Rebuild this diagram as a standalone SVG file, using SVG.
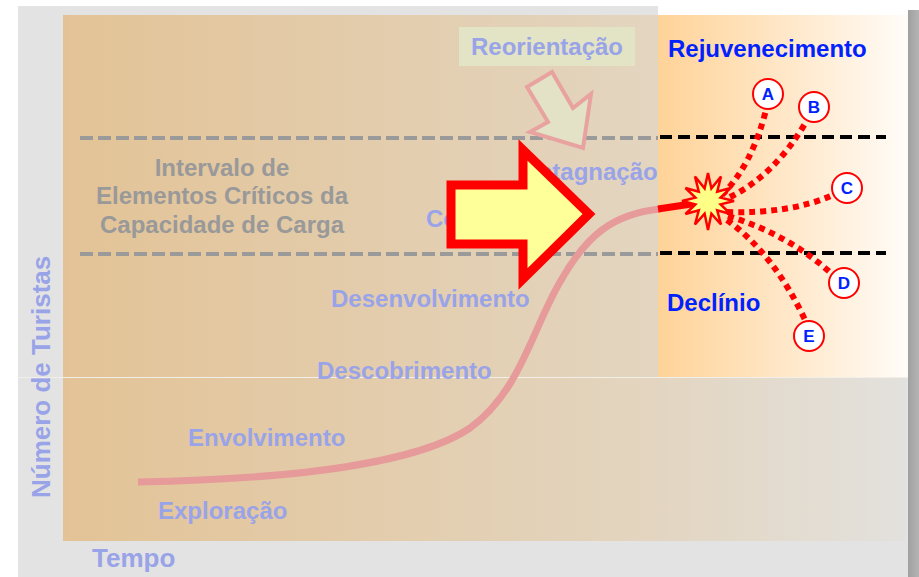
<svg xmlns="http://www.w3.org/2000/svg" width="919" height="577" viewBox="0 0 919 577">
<defs>
<linearGradient id="gOver" x1="63" y1="0" x2="905" y2="0" gradientUnits="userSpaceOnUse">
<stop offset="0" stop-color="#e3c396"/>
<stop offset="0.7" stop-color="#e3d5c0"/>
<stop offset="1" stop-color="#e3e1dd"/>
</linearGradient>
<linearGradient id="gBright" x1="658" y1="0" x2="908" y2="0" gradientUnits="userSpaceOnUse">
<stop offset="0" stop-color="#ffd398"/>
<stop offset="0.55" stop-color="#ffe9cc"/>
<stop offset="1" stop-color="#fffcf8"/>
</linearGradient>
<linearGradient id="gShadow" x1="908" y1="0" x2="919" y2="0" gradientUnits="userSpaceOnUse">
<stop offset="0" stop-color="#a0a0a0"/>
<stop offset="1" stop-color="#b4b4b4"/>
</linearGradient>
<style>
.lav{font-family:"Liberation Sans",Arial,sans-serif;font-weight:bold;font-size:24px;fill:#99a3e8}
.gry{font-family:"Liberation Sans",Arial,sans-serif;font-weight:bold;font-size:24px;fill:#999999}
.blu{font-family:"Liberation Sans",Arial,sans-serif;font-weight:bold;font-size:24px;fill:#0022ff}
.let{font-family:"Liberation Sans",Arial,sans-serif;font-weight:bold;font-size:17px;fill:#0022ff;text-anchor:middle}
.circ{fill:#ffffff;stroke:#ff0000;stroke-width:2}
.dots{fill:none;stroke:#ff0000;stroke-width:6;stroke-dasharray:6 5}
.dgray{stroke:#9a9a9a;stroke-width:4;stroke-dasharray:13 5}
.dblack{stroke:#000000;stroke-width:4;stroke-dasharray:12 6}
</style>
</defs>
<rect x="0" y="0" width="919" height="577" fill="#ffffff"/>
<!-- shadow -->
<rect x="908" y="10" width="11" height="567" fill="url(#gShadow)"/>
<!-- grey overlay frame -->
<rect x="18" y="6" width="640" height="372" fill="#e3e3e3"/>
<rect x="18" y="377" width="890" height="200" fill="#e3e3e3"/>
<!-- dimmed chart area -->
<rect x="63" y="15" width="595" height="363" fill="url(#gOver)"/>
<rect x="63" y="377" width="842" height="164" fill="url(#gOver)"/>
<!-- bright right box -->
<rect x="658" y="15" width="250" height="362" fill="url(#gBright)"/>
<line x1="18" y1="377.5" x2="908" y2="377.5" stroke="#f2efe9" stroke-width="1"/>

<!-- dashed capacity lines -->
<g id="capacity-lines">
<line class="dgray" x1="80" y1="138" x2="658" y2="138"/>
<line class="dblack" x1="660" y1="137" x2="886" y2="137"/>
<line class="dgray" x1="80" y1="254" x2="658" y2="254"/>
<line class="dblack" x1="660" y1="253" x2="886" y2="253"/>
</g>

<g id="axis-y"><text class="lav" style="font-size:26px" transform="translate(50,498) rotate(-90)">Número de Turistas</text></g>
<g id="axis-x"><text class="lav" style="font-size:26px" x="92" y="567">Tempo</text></g>

<g id="intervalo">
<text class="gry" text-anchor="middle" x="222" y="176">Intervalo de</text>
<text class="gry" text-anchor="middle" x="222" y="204">Elementos Críticos da</text>
<text class="gry" text-anchor="middle" x="222" y="233">Capacidade de Carga</text>
</g>

<g id="stage-exploracao"><text class="lav" x="158" y="519">Exploração</text></g>
<g id="stage-envolvimento"><text class="lav" x="188" y="446">Envolvimento</text></g>
<g id="stage-descobrimento"><text class="lav" x="317" y="379">Descobrimento</text></g>
<g id="stage-desenvolvimento"><text class="lav" x="331" y="307">Desenvolvimento</text></g>
<g id="stage-consolidacao"><text class="lav" x="426" y="227">Consolidação</text></g>
<g id="stage-estagnacao"><text class="lav" x="523" y="180">Estagnação</text></g>

<g id="reorientacao">
<rect x="459" y="27" width="176" height="39" fill="#e3e3c5"/>
<text class="lav" x="547" y="55" text-anchor="middle">Reorientação</text>
</g>
<g id="reorientacao-arrow">
<polygon points="552,72 527,87 548,122 530,132 583,148 591,94 573,108" fill="#e3e2c6" stroke="#e8a2a0" stroke-width="4" stroke-linejoin="miter"/>
</g>

<g id="connectors">
<path d="M138,482 C300,479 420,462 470,428 C520,392 532,330 560,282 C586,236 612,214 660,209" fill="none" stroke="#e69a9a" stroke-width="7"/>
<path d="M658,209 L698,203" fill="none" stroke="#ff0000" stroke-width="7"/>
<path class="dots" d="M722,195 Q752,165 766,110"/>
<path class="dots" d="M730,197 Q775,175 806,122"/>
<path class="dots" d="M727,212 Q790,214 833,195"/>
<path class="dots" d="M728,216 Q790,235 833,275"/>
<path class="dots" d="M727,220 Q775,255 806,322"/>
</g>

<g id="big-arrow">
<path d="M451,185 H523 V150 L589,214 L523,279 V244 H451 Z" fill="#ffff99" stroke="#ff0000" stroke-width="9" stroke-linejoin="miter"/>
</g>

<g id="starburst">
<polygon points="708,173 711.4,188.4 721,176.5 717.2,191.8 730.5,188 720.6,197.6 734,201 720.6,204.4 730.5,214 717.2,210.2 721,224.5 711.4,213.6 708,230 704.6,213.6 695,224.5 698.8,210.2 685.5,214 695.4,204.4 682,201 695.4,197.6 685.5,188 698.8,191.8 695,176.5 704.6,188.4" fill="#ffff88" stroke="#ff0000" stroke-width="2.5" stroke-linejoin="miter"/>
</g>

<g id="rejuvenecimento"><text class="blu" x="668" y="57">Rejuvenecimento</text></g>
<g id="declinio"><text class="blu" x="667" y="311">Declínio</text></g>

<g id="node-A"><circle class="circ" cx="768" cy="94" r="15"/><text class="let" x="768" y="100">A</text></g>
<g id="node-B"><circle class="circ" cx="814" cy="107" r="15"/><text class="let" x="814" y="113">B</text></g>
<g id="node-C"><circle class="circ" cx="847" cy="188" r="15"/><text class="let" x="847" y="194">C</text></g>
<g id="node-D"><circle class="circ" cx="844" cy="283" r="15"/><text class="let" x="844" y="289">D</text></g>
<g id="node-E"><circle class="circ" cx="809" cy="336" r="15"/><text class="let" x="809" y="342">E</text></g>
</svg>
